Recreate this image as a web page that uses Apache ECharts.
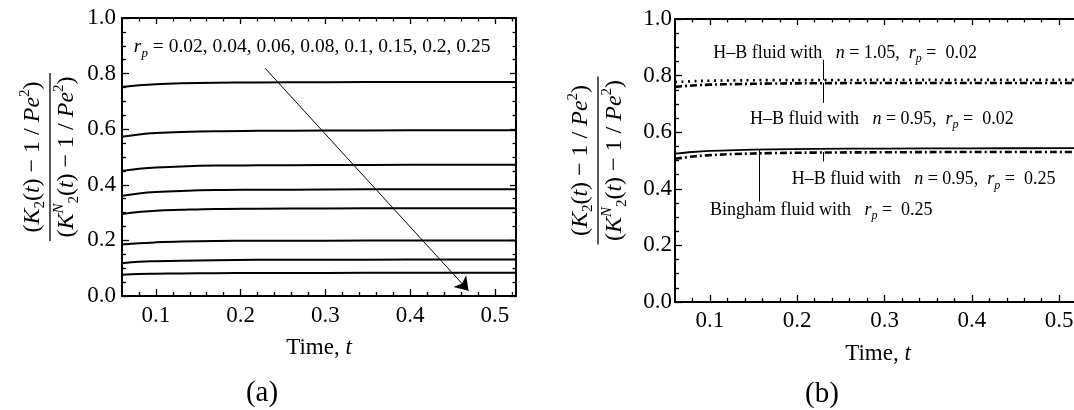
<!DOCTYPE html>
<html><head><meta charset="utf-8">
<script src="https://cdn.jsdelivr.net/npm/echarts@6/dist/echarts.min.js"></script>
<style>html,body{margin:0;padding:0;background:#fff}#c{width:1074px;height:410px}</style>
</head><body><div id="c"></div>
<script>
// ---------- data ----------
const timeA = [0.06, 0.08, 0.1, 0.13, 0.17, 0.22, 0.3, 0.4, 0.525];
const rpValues = ['0.02', '0.04', '0.06', '0.08', '0.1', '0.15', '0.2', '0.25'];
const curveRp002 = [0.752, 0.758, 0.762, 0.765, 0.767, 0.768, 0.769, 0.770, 0.770];
const curveRp004 = [0.573, 0.581, 0.586, 0.590, 0.593, 0.594, 0.595, 0.596, 0.596];
const curveRp006 = [0.450, 0.458, 0.462, 0.466, 0.469, 0.470, 0.471, 0.472, 0.472];
const curveRp008 = [0.361, 0.369, 0.374, 0.378, 0.381, 0.382, 0.383, 0.384, 0.384];
const curveRp010 = [0.295, 0.302, 0.307, 0.310, 0.313, 0.314, 0.315, 0.316, 0.316];
const curveRp015 = [0.185, 0.190, 0.193, 0.196, 0.198, 0.199, 0.199, 0.200, 0.200];
const curveRp020 = [0.118, 0.123, 0.125, 0.127, 0.129, 0.130, 0.130, 0.131, 0.131];
const curveRp025 = [0.076, 0.079, 0.080, 0.081, 0.082, 0.083, 0.083, 0.084, 0.084];

const timeB = [0.06, 0.08, 0.1, 0.13, 0.17, 0.22, 0.3, 0.4, 0.525];
const hbN105Rp002 = [0.777, 0.780, 0.782, 0.783, 0.784, 0.784, 0.785, 0.785, 0.785];
const hbN095Rp002 = [0.760, 0.765, 0.768, 0.770, 0.772, 0.773, 0.774, 0.774, 0.774];
const binghamRp025 = [0.524, 0.530, 0.534, 0.537, 0.539, 0.541, 0.542, 0.543, 0.544];
const hbN095Rp025 = [0.506, 0.514, 0.519, 0.523, 0.526, 0.528, 0.529, 0.530, 0.530];

const xMajorTicks = [0.1, 0.2, 0.3, 0.4, 0.5];
const xMinorTicks = [0.08, 0.12, 0.14, 0.16, 0.18, 0.22, 0.24, 0.26, 0.28, 0.32, 0.34, 0.36, 0.38, 0.42, 0.44, 0.46, 0.48, 0.52];
const yMajorTicks = [0, 0.2, 0.4, 0.6, 0.8, 1.0];
const yMinorTicks = [0.05, 0.1, 0.15, 0.25, 0.3, 0.35, 0.45, 0.5, 0.55, 0.65, 0.7, 0.75, 0.85, 0.9, 0.95];

// ---------- styling / helpers ----------
const SERIF = 'Liberation Serif';
const X_MIN = 0.06, X_MAX = 0.525;
const pairs = (xs, ys) => xs.map((x, i) => [x, ys[i]]);

const nameRich = {
  p: {fontFamily: SERIF, fontSize: 24, color: '#000', lineHeight: 30, verticalAlign: 'middle', align: 'center'},
  i: {fontFamily: SERIF, fontSize: 24, fontStyle: 'italic', color: '#000', lineHeight: 30, verticalAlign: 'middle', align: 'center'},
  sb: {fontFamily: SERIF, fontSize: 15, color: '#000', lineHeight: 14, verticalAlign: 'bottom', align: 'center'},
  sp: {fontFamily: SERIF, fontSize: 15, fontStyle: 'italic', color: '#000', lineHeight: 14, verticalAlign: 'top', align: 'center'},
  sp2: {fontFamily: SERIF, fontSize: 15, color: '#000', lineHeight: 14, verticalAlign: 'top', align: 'center'},
  bar: {width: 168, height: 1.3, lineHeight: 4, backgroundColor: '#000', align: 'center'}
};
const yName = '{p|(}{i|K}{sb|2}{p|(}{i|t}{p|) − 1 / }{i|Pe}{sp2|2}{p|)}\n{bar|}\n{p|(}{i|K}{sp|N}{sb|2}{p|(}{i|t}{p|) − 1 / }{i|Pe}{sp2|2}{p|)}';

function xAxesFor(grid, labelMargin, nameGap) {
  const base = {type: 'value', gridIndex: grid, min: X_MIN, max: X_MAX, splitLine: {show: false},
    axisLine: {show: false, onZero: false}, nameMoveOverlap: false};
  return [
    Object.assign({}, base, {position: 'bottom',
      axisTick: {show: true, inside: true, length: 7, customValues: xMajorTicks, lineStyle: {color: '#000', width: 1.3}},
      axisLabel: {show: true, customValues: xMajorTicks, margin: labelMargin, formatter: v => v.toFixed(1),
        fontFamily: SERIF, fontSize: 23, color: '#000'},
      name: '{t|Time, }{i|t}', nameLocation: 'middle', nameGap: nameGap,
      nameTextStyle: {rich: {t: {fontFamily: SERIF, fontSize: 23, color: '#000'}, i: {fontFamily: SERIF, fontSize: 23, fontStyle: 'italic', color: '#000'}}}}),
    Object.assign({}, base, {position: 'bottom',
      axisTick: {show: true, inside: true, length: 4, customValues: xMinorTicks, lineStyle: {color: '#000', width: 1.3}},
      axisLabel: {show: false}}),
    Object.assign({}, base, {position: 'top',
      axisTick: {show: true, inside: true, length: 6, customValues: xMajorTicks, lineStyle: {color: '#000', width: 1.3}},
      axisLabel: {show: false}}),
    Object.assign({}, base, {position: 'top',
      axisTick: {show: true, inside: true, length: 3.5, customValues: xMinorTicks, lineStyle: {color: '#000', width: 1.3}},
      axisLabel: {show: false}})
  ];
}
function yAxesFor(grid, labelMargin, nameGap) {
  const base = {type: 'value', gridIndex: grid, min: 0, max: 1, splitLine: {show: false},
    axisLine: {show: false, onZero: false}, nameMoveOverlap: false};
  return [
    Object.assign({}, base, {position: 'left',
      axisTick: {show: true, inside: true, length: 7, customValues: yMajorTicks, lineStyle: {color: '#000', width: 1.3}},
      axisLabel: {show: true, customValues: yMajorTicks, margin: labelMargin, formatter: v => v.toFixed(1),
        fontFamily: SERIF, fontSize: 23, color: '#000'},
      name: yName, nameLocation: 'middle', nameGap: nameGap, nameRotate: 90,
      nameTextStyle: {rich: nameRich, align: 'center'}}),
    Object.assign({}, base, {position: 'left',
      axisTick: {show: true, inside: true, length: 4, customValues: yMinorTicks, lineStyle: {color: '#000', width: 1.3}},
      axisLabel: {show: false}}),
    Object.assign({}, base, {position: 'right',
      axisTick: {show: true, inside: true, length: 6, customValues: yMajorTicks, lineStyle: {color: '#000', width: 1.3}},
      axisLabel: {show: false}}),
    Object.assign({}, base, {position: 'right',
      axisTick: {show: true, inside: true, length: 3.5, customValues: yMinorTicks, lineStyle: {color: '#000', width: 1.3}},
      axisLabel: {show: false}})
  ];
}

function annRichOf(size) {
  return {
    t: {fontFamily: SERIF, fontSize: size, color: '#000', lineHeight: size + 6, verticalAlign: 'middle'},
    i: {fontFamily: SERIF, fontSize: size, fontStyle: 'italic', color: '#000', lineHeight: size + 6, verticalAlign: 'middle'},
    s: {fontFamily: SERIF, fontSize: Math.round(size * 0.68), fontStyle: 'italic', color: '#000', lineHeight: 13, verticalAlign: 'bottom'}
  };
}
function ann(x, y, text, size) {
  return {coord: [x, y], symbol: 'circle', symbolSize: 0,
    label: {show: true, position: 'right', distance: 0, formatter: text, rich: annRichOf(size), color: '#000'}};
}

const curvesA = [curveRp002, curveRp004, curveRp006, curveRp008, curveRp010, curveRp015, curveRp020, curveRp025];
const seriesA = curvesA.map((c) => ({
  type: 'line', xAxisIndex: 0, yAxisIndex: 0, data: pairs(timeA, c), smooth: 0.4, symbol: 'none',
  lineStyle: {color: '#000', width: 2}, silent: true
}));
seriesA[0].markLine = {silent: true, symbol: ['none', 'arrow'], symbolSize: 13, label: {show: false},
  lineStyle: {color: '#000', width: 1, type: 'solid'},
  data: [[{coord: [0.229, 0.819]}, {coord: [0.469, 0.019]}]]};
seriesA[0].markPoint = {silent: true,
  data: [ann(0.074, 0.896, '{i|r}{s|p}{t| = ' + rpValues.join(', ') + '}', 19.5)]};

const seriesB = [
  {type: 'line', xAxisIndex: 4, yAxisIndex: 4, data: pairs(timeB, hbN105Rp002), smooth: 0.4, symbol: 'none',
    lineStyle: {color: '#000', width: 2.6, type: [2, 4.5]}},
  {type: 'line', xAxisIndex: 4, yAxisIndex: 4, data: pairs(timeB, hbN095Rp002), smooth: 0.4, symbol: 'none',
    lineStyle: {color: '#000', width: 2.6, type: [7, 3, 2, 3]}},
  {type: 'line', xAxisIndex: 4, yAxisIndex: 4, data: pairs(timeB, binghamRp025), smooth: 0.4, symbol: 'none',
    lineStyle: {color: '#000', width: 1.8}},
  {type: 'line', xAxisIndex: 4, yAxisIndex: 4, data: pairs(timeB, hbN095Rp025), smooth: 0.4, symbol: 'none',
    lineStyle: {color: '#000', width: 2.6, type: [7, 3, 2, 3]}}
];
seriesB[2].markLine = {silent: true, symbol: ['none', 'none'], label: {show: false},
  lineStyle: {color: '#000', width: 1, type: 'solid'},
  data: [
    [{coord: [0.23, 0.856]}, {coord: [0.23, 0.785]}],
    [{coord: [0.23, 0.774]}, {coord: [0.23, 0.704]}],
    [{coord: [0.23, 0.530]}, {coord: [0.23, 0.497]}],
    [{coord: [0.157, 0.538]}, {coord: [0.157, 0.355]}]
  ]};
seriesB[2].markPoint = {silent: true, data: [
  ann(0.1037, 0.880, '{t|H–B fluid with   }{i|n}{t| = 1.05,  }{i|r}{s|p}{t| =  0.02}', 18),
  ann(0.1458, 0.647, '{t|H–B fluid with   }{i|n}{t| = 0.95,  }{i|r}{s|p}{t| =  0.02}', 18),
  ann(0.1936, 0.432, '{t|H–B fluid with   }{i|n}{t| = 0.95,  }{i|r}{s|p}{t| =  0.25}', 18),
  ann(0.100, 0.324, '{t|Bingham fluid with   }{i|r}{s|p}{t| =  0.25}', 18)
]};

const option = {
  animation: false,
  backgroundColor: '#fff',
  grid: [
    {left: 122, top: 18, width: 394, height: 278, show: true, borderColor: '#000', borderWidth: 2,
      backgroundColor: 'transparent', outerBoundsMode: 'none'},
    {left: 675, top: 19, width: 406, height: 283, show: true, borderColor: '#000', borderWidth: 2,
      backgroundColor: 'transparent', outerBoundsMode: 'none'}
  ],
  xAxis: xAxesFor(0, 8, 40).concat(xAxesFor(1, 7, 40)),
  yAxis: yAxesFor(0, 6, 40).concat(yAxesFor(1, 3, 45)),
  series: seriesA.concat(seriesB),
  graphic: [
    {type: 'text', x: 262, y: 393, style: {text: '(a)', font: '29px "Liberation Serif"', fill: '#000', textAlign: 'center', textVerticalAlign: 'middle'}},
    {type: 'text', x: 822, y: 394, style: {text: '(b)', font: '29px "Liberation Serif"', fill: '#000', textAlign: 'center', textVerticalAlign: 'middle'}}
  ]
};

const chart = echarts.init(document.getElementById('c'), null, {renderer: 'canvas'});
chart.setOption(option);
</script>
</body></html>
